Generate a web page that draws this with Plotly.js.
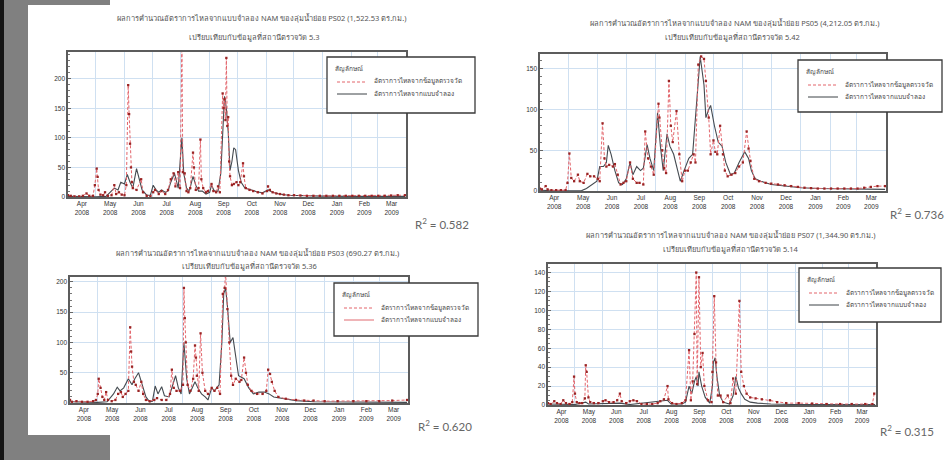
<!DOCTYPE html>
<html><head><meta charset="utf-8">
<script src="https://cdn.plot.ly/plotly-3.0.1.min.js"></script>
<style>html,body{margin:0;padding:0;background:#fff;}#chart{width:951px;height:460px;}</style>
</head><body><div id="chart"></div>
<script>
// ---------- DATA (month-day; Apr-Dec = 2008, Jan-Mar = 2009) ----------
const monthTickFormat = '%b<br>%Y';
const legendTitle = 'สัญลักษณ์';
const obsLabel = 'อัตราการไหลจากข้อมูลตรวจวัด';
const simLabel = 'อัตราการไหลจากแบบจำลอง';

const titles1 = ['ผลการคำนวณอัตราการไหลจากแบบจำลอง NAM ของลุ่มน้ำย่อย PS02 (1,522.53 ตร.กม.)', 'เปรียบเทียบกับข้อมูลที่สถานีตรวจวัด 5.3'];
const titles2 = ['ผลการคำนวณอัตราการไหลจากแบบจำลอง NAM ของลุ่มน้ำย่อย PS05 (4,212.05 ตร.กม.)', 'เปรียบเทียบกับข้อมูลที่สถานีตรวจวัด 5.42'];
const titles3 = ['ผลการคำนวณอัตราการไหลจากแบบจำลอง NAM ของลุ่มน้ำย่อย PS03 (690.27 ตร.กม.)', 'เปรียบเทียบกับข้อมูลที่สถานีตรวจวัด 5.36'];
const titles4 = ['ผลการคำนวณอัตราการไหลจากแบบจำลอง NAM ของลุ่มน้ำย่อย PS07 (1,344.90 ตร.กม.)', 'เปรียบเทียบกับข้อมูลที่สถานีตรวจวัด 5.14'];
const r2Values = ['0.582', '0.736', '0.620', '0.315'];

// Chart 1 observed
const obs1Days = [
 '04-01','04-04','04-08','04-13','04-17','04-21','04-24','04-28','04-30',
 '05-02','05-03','05-04','05-06','05-09','05-11','05-14','05-18','05-21','05-23','05-26','05-29',
 '06-01','06-03','06-05','06-06','06-07','06-08','06-09','06-10','06-14','06-19','06-21','06-25','06-29',
 '07-02','07-04','07-08','07-11','07-15','07-18','07-21','07-24','07-26','07-29','07-31',
 '08-02','08-03','08-05','08-07','08-09','08-11','08-14','08-15','08-17','08-20','08-22','08-23','08-25','08-28','08-30',
 '09-03','09-05','09-08','09-10','09-12','09-15','09-16','09-17','09-18','09-19','09-20','09-21','09-22','09-23','09-25','09-27','09-30',
 '10-02','10-04','10-07','10-08','10-10','10-14','10-18','10-23','10-28',
 '11-02','11-03','11-05','11-08','11-12','11-16','11-20','11-25',
 '12-01','12-08','12-15','12-22','12-29',
 '01-05','01-12','01-19','01-26',
 '02-02','02-09','02-16','02-23',
 '03-02','03-09','03-16','03-23','03-31'];
const obs1Flow = [
 3,2,1,1,2,6,2,2,20,
 48,34,12,4,3,8,2,3,20,5,8,4,
 3,20,189,140,90,50,25,15,12,30,8,2,1,
 8,12,5,10,5,12,30,40,18,42,15,
 260,42,40,10,8,15,75,50,12,15,97,30,15,8,10,
 22,10,8,18,8,175,150,165,130,235,120,135,60,35,20,22,25,
 20,25,57,35,15,12,10,8,6,
 10,18,12,8,6,5,4,3,
 3,2.5,2,2,2,
 2,2,2,2,
 2,2,2,2,
 2,2,2.5,3,3];
// Chart 1 simulated
const sim1Days = [
 '04-01','04-15',
 '05-01','05-12','05-17','05-21','05-25','05-28',
 '06-01','06-04','06-07','06-10','06-14','06-17','06-20','06-25','06-29',
 '07-02','07-05','07-08','07-11','07-15','07-18','07-21','07-25','07-29',
 '08-02','08-04','08-07','08-10','08-14','08-17','08-20','08-24','08-28',
 '09-01','09-03','09-06','09-10','09-13','09-15','09-17','09-19','09-21','09-23','09-25','09-27','09-29',
 '10-02','10-05','10-09','10-15','10-22','10-28',
 '11-03','11-08','11-15','11-25',
 '12-10','01-01','02-01','03-01','03-31'];
const sim1Flow = [
 1,0.5,
 0.5,1,8,15,12,25,
 22,38,25,15,48,30,12,3,3,
 20,12,8,12,8,10,25,40,15,
 100,40,15,10,35,20,10,10,5,
 8,20,10,10,40,120,170,150,110,45,60,83,80,
 45,25,15,12,9,7,
 12,8,5,3,
 2,1.5,1,1,1];

// Chart 2 observed
const obs2Days = [
 '04-01','04-03','04-07','04-09','04-13','04-18','04-23','04-28','04-30',
 '05-02','05-04','05-07','05-11','05-13','05-17','05-21','05-24','05-28',
 '06-01','06-03','06-06','06-08','06-10','06-13','06-17','06-19','06-22','06-25','06-28',
 '07-01','07-05','07-08','07-12','07-15','07-19','07-21','07-24','07-27','07-30',
 '08-04','08-05','08-08','08-10','08-12','08-15','08-17','08-19','08-23','08-26','08-29',
 '09-01','09-04','09-07','09-10','09-12','09-15','09-18','09-21','09-23','09-26','09-28',
 '10-01','10-03','10-05','10-08','10-11','10-13','10-16','10-20','10-24','10-28',
 '11-01','11-05','11-07','11-09','11-13','11-18','11-25',
 '12-01','12-08','12-15','12-22','12-29',
 '01-05','01-12','01-19','01-26',
 '02-02','02-09','02-16','02-23',
 '03-02','03-09','03-16','03-23','03-31'];
const obs2Flow = [
 3,2,6,2,1,1,1,1,10,
 46,16,12,20,12,10,21,18,18,
 15,12,83,40,30,32,30,33,20,8,10,
 12,35,15,10,10,8,73,40,30,20,
 107,90,50,28,22,135,80,60,98,45,12,
 25,25,35,45,35,155,165,162,135,90,45,
 62,48,45,80,45,25,18,20,22,30,
 35,73,52,37,15,12,10,
 9,8,7,6,5,
 4,3.5,3,3,
 3,3,3,3,
 3,4,5,6,6];
// Chart 2 simulated
const sim2Days = [
 '04-01','04-10',
 '05-01','05-15','05-20','05-24','05-28','05-31',
 '06-03','06-07','06-10','06-12','06-15','06-19','06-23','06-27',
 '07-01','07-05','07-08','07-12','07-16','07-19','07-23','07-26','07-30',
 '08-03','08-06','08-09','08-13','08-16','08-20','08-24','08-27','08-31',
 '09-05','09-09','09-13','09-17','09-21','09-23','09-26','09-28',
 '10-02','10-06','10-10','10-14','10-19','10-23','10-28',
 '11-03','11-07','11-10','11-14','11-20',
 '12-01','12-15','01-01','01-20','02-10','03-01','03-31'];
const sim2Flow = [
 1,0.5,
 0.3,0.5,3,6,10,12,
 30,30,35,56,45,25,10,8,
 15,35,20,30,25,28,57,40,25,
 96,55,25,70,55,45,25,12,25,
 40,45,110,165,130,90,100,105,
 80,60,55,35,20,22,35,
 48,40,25,15,12,
 8,6,4,3,2.5,2,2];

// Chart 3 observed
const obs3Days = [
 '04-01','04-03','04-08','04-14','04-20','04-26','04-29',
 '05-01','05-02','05-04','05-06','05-08','05-10','05-12','05-16','05-20','05-23','05-26','05-28','05-31',
 '06-03','06-05','06-06','06-07','06-09','06-11','06-14','06-17','06-19','06-22','06-26',
 '07-01','07-04','07-09','07-14','07-18','07-20','07-22','07-25','07-29',
 '08-01','08-02','08-03','08-04','08-06','08-09','08-12','08-14','08-15','08-16','08-18','08-20','08-22','08-25','08-28',
 '09-01','09-04','09-07','09-10','09-13','09-15','09-16','09-18','09-20','09-22','09-24','09-27',
 '10-01','10-03','10-06','10-08','10-10','10-14','10-20','10-26','10-30',
 '11-01','11-03','11-05','11-08','11-12','11-20',
 '12-01','12-10','12-20',
 '01-01','01-15',
 '02-01','02-15',
 '03-01','03-15','03-31'];
const obs3Flow = [
 5,2,3,2,2,3,5,
 15,40,25,10,5,18,5,3,5,15,18,10,15,
 20,125,85,60,35,30,20,35,15,5,3,
 5,8,5,5,15,55,25,20,20,
 30,190,140,100,30,20,40,95,75,45,20,115,50,20,15,
 25,20,25,15,180,190,215,155,100,45,30,40,
 35,38,75,50,30,20,15,15,20,
 55,48,35,20,10,7,
 5,4,4,
 3,3,
 3,3,
 3,4,5];
// Chart 3 simulated
const sim3Days = [
 '04-01','04-15',
 '05-01','05-11','05-18','05-22','05-25','05-29',
 '06-03','06-07','06-10','06-14','06-18','06-22','06-26','06-29',
 '07-02','07-05','07-09','07-12','07-17','07-21','07-24','07-27','07-30',
 '08-02','08-05','08-08','08-11','08-14','08-17','08-21','08-25','08-28',
 '09-01','09-04','09-09','09-12','09-14','09-16','09-18','09-21','09-24','09-27','09-30',
 '10-06','10-11','10-16','10-22','10-28',
 '11-02','11-07','11-17',
 '12-01','12-20','01-15','02-15','03-31'];
const sim3Flow = [
 2,1,
 1,2,15,26,20,25,
 40,30,40,50,30,10,2,3,
 28,15,27,12,10,30,45,25,15,
 100,40,15,25,35,25,15,10,5,
 25,20,30,100,180,190,160,100,108,80,45,
 40,25,15,18,18,
 15,10,7,
 4,2,1.5,1,1];

// Chart 4 observed
const obs4Days = [
 '04-01','04-04','04-08','04-11','04-15','04-18','04-21','04-25','04-28','04-30',
 '05-01','05-03','05-06','05-09','05-12','05-13','05-14','05-16','05-18','05-22','05-27',
 '06-01','06-04','06-08','06-13','06-17','06-20','06-22','06-27',
 '07-01','07-05','07-09','07-14','07-20','07-26',
 '08-01','08-04','08-08','08-12','08-13','08-17','08-22','08-28',
 '09-01','09-05','09-07','09-09','09-11','09-13','09-14','09-16','09-18','09-20','09-22','09-26','09-30',
 '10-01','10-03','10-05','10-07','10-10','10-13','10-18','10-21','10-24','10-27','10-31',
 '11-02','11-05','11-08','11-12','11-18','11-25',
 '12-04','12-12','12-22',
 '01-05','01-20',
 '02-05','02-20',
 '03-05','03-20','03-28','03-30'];
const obs4Flow = [
 2,1,4,2,1,5,2,1,3,30,
 12,3,2,2,7,42,35,8,3,2,2,
 4,5,3,3,5,12,4,2,
 4,5,4,1,1,1,
 2,4,6,20,6,2,1,2,
 5,58,5,25,75,140,22,135,40,55,20,5,3,
 35,115,45,10,10,3,10,2,28,12,110,
 35,20,12,8,7,6,
 5,3,2,
 2,1.5,
 1,1,
 1,1,1,12];
// Chart 4 simulated
const sim4Days = [
 '04-01',
 '05-01','05-13','05-16',
 '06-20','07-01',
 '08-12','08-16','08-28',
 '09-01','09-05','09-08','09-11','09-13','09-15','09-16','09-19','09-23','09-28',
 '10-01','10-02','10-04','10-06','10-09','10-13','10-20','10-24','10-27','10-30',
 '11-02','11-06','11-12','11-20',
 '12-05','01-01','03-31'];
const sim4Flow = [
 1,
 0.5,3,1,
 2,0.5,
 5,1,1,
 3,20,12,25,30,20,35,20,8,2,
 20,45,50,30,10,3,1,10,30,18,
 12,6,3,2,
 1,0.5,0.5];

// ---------- RENDER ----------
const toDate = md => (parseInt(md, 10) >= 4 ? '2008-' : '2009-') + md;
const W = 951, H = 460;
const fx = x => x / W, fy = y => 1 - y / H;

const panels = [
  {box:[68,406,52,197], ymax:245, dtick:50, minor:10, obsD:obs1Days, obsV:obs1Flow, simD:sim1Days, simV:sim1Flow,
   titles:titles1, tx:[262,254], ty:[18,37], r2:r2Values[0], r2pos:[442,223], leg:[327,475,57,113], simLegColor:'#3c4247'},
  {box:[540,886,54,191], ymax:168, dtick:50, minor:10, obsD:obs2Days, obsV:obs2Flow, simD:sim2Days, simV:sim2Flow,
   titles:titles2, tx:[735,732], ty:[23,37], r2:r2Values[1], r2pos:[917,213], leg:[798,942,60,112], simLegColor:'#3c4247'},
  {box:[70,408,277,403], ymax:208, dtick:50, minor:10, obsD:obs3Days, obsV:obs3Flow, simD:sim3Days, simV:sim3Flow,
   titles:titles3, tx:[257,250], ty:[253,266], r2:r2Values[2], r2pos:[445,425], leg:[334,478,283,336], simLegColor:'#e06a70'},
  {box:[548,876,264,405], ymax:149, dtick:20, minor:5, obsD:obs4Days, obsV:obs4Flow, simD:sim4Days, simV:sim4Flow,
   titles:titles4, tx:[731,731], ty:[235,249], r2:r2Values[3], r2pos:[907,430], leg:[799,941,268,322], simLegColor:'#3c4247'}
];

const fontFam = '"Noto Sans", "DejaVu Sans", "Liberation Sans", sans-serif';
const redLine = '#e3646b', redMark = '#9a2424', simColor = '#444a50';
const traces = [];
const layout = {
  width: W, height: H, margin:{l:0,r:0,t:0,b:0,pad:0},
  paper_bgcolor:'#ffffff', plot_bgcolor:'#ffffff', showlegend:false,
  font:{family:fontFam, size:7, color:'#333'},
  shapes:[], annotations:[]
};

panels.forEach((p, i) => {
  const n = i === 0 ? '' : String(i + 1);
  const [x0, x1, y0, y1] = p.box;
  traces.push({
    type:'scatter', mode:'lines', x:p.simD.map(toDate), y:p.simV, xaxis:'x'+n, yaxis:'y'+n,
    line:{color:simColor, width:1.1}, name:simLabel, hoverinfo:'skip'
  });
  traces.push({
    type:'scatter', mode:'lines+markers', x:p.obsD.map(toDate), y:p.obsV, xaxis:'x'+n, yaxis:'y'+n,
    line:{color:redLine, width:1, dash:'3px,2px'}, marker:{symbol:'square', size:2.3, color:redMark},
    name:obsLabel, cliponaxis:true, hoverinfo:'skip'
  });
  layout['xaxis'+n] = {
    domain:[fx(x0), fx(x1)], anchor:'y'+n, type:'date',
    range:['2008-04-01','2009-04-01'], tick0:'2008-04-01', dtick:'M1',
    tickformat:monthTickFormat, ticklabelmode:'period', ticks:'',
    showgrid:true, gridcolor:'#cfe0f1', gridwidth:1, zeroline:false,
    showline:true, mirror:true, linecolor:'#5c5c5c', linewidth:1.6,
    tickfont:{size:6.5, color:'#333', family:'"Liberation Sans", Arial, sans-serif'}, fixedrange:true
  };
  layout['yaxis'+n] = {
    domain:[fy(y1), fy(y0)], anchor:'x'+n, range:[0, p.ymax], dtick:p.dtick, tick0:0,
    showgrid:true, gridcolor:'#cfe0f1', gridwidth:1, zeroline:false,
    showline:true, mirror:true, linecolor:'#5c5c5c', linewidth:1.6,
    ticks:'inside', ticklen:3, tickcolor:'#666',
    minor:{dtick:p.minor, ticks:'inside', ticklen:2, tickcolor:'#777', showgrid:false},
    tickfont:{size:6.5, color:'#333', family:'"Liberation Sans", Arial, sans-serif'}, fixedrange:true
  };
  p.titles.forEach((t, k) => layout.annotations.push({
    xref:'paper', yref:'paper', x:fx(p.tx[k]), y:fy(p.ty[k]), text:t, showarrow:false,
    xanchor:'center', yanchor:'middle', font:{size:7.5, color:'#555', family:fontFam}
  }));
  layout.annotations.push({
    xref:'paper', yref:'paper', x:fx(p.r2pos[0]), y:fy(p.r2pos[1]), text:'R<sup>2</sup> = ' + p.r2,
    showarrow:false, xanchor:'center', yanchor:'middle', font:{size:11.5, color:'#666', family:'Lato, "Open Sans", sans-serif'}
  });
  const [lx0, lx1, ly0, ly1] = p.leg;
  layout.shapes.push({type:'rect', xref:'paper', yref:'paper', x0:fx(lx0), x1:fx(lx1), y0:fy(ly1), y1:fy(ly0),
    fillcolor:'#ffffff', line:{color:'#3a3a3a', width:1.3}, layer:'above'});
  layout.shapes.push({type:'line', xref:'paper', yref:'paper', x0:fx(lx0+10), x1:fx(lx0+40), y0:fy(ly0+25), y1:fy(ly0+25),
    line:{color:redLine, width:1, dash:'3px,2px'}, layer:'above'});
  layout.shapes.push({type:'line', xref:'paper', yref:'paper', x0:fx(lx0+10), x1:fx(lx0+40), y0:fy(ly0+37), y1:fy(ly0+37),
    line:{color:p.simLegColor, width:1}, layer:'above'});
  layout.annotations.push({xref:'paper', yref:'paper', x:fx(lx0+6), y:fy(ly0+11), text:legendTitle, showarrow:false,
    xanchor:'left', yanchor:'middle', font:{size:6.5, color:'#444', family:fontFam}});
  layout.annotations.push({xref:'paper', yref:'paper', x:fx(lx0+45), y:fy(ly0+24), text:obsLabel, showarrow:false,
    xanchor:'left', yanchor:'middle', font:{size:6.5, color:'#444', family:fontFam}});
  layout.annotations.push({xref:'paper', yref:'paper', x:fx(lx0+45), y:fy(ly0+36), text:simLabel, showarrow:false,
    xanchor:'left', yanchor:'middle', font:{size:6.5, color:'#444', family:fontFam}});
});

// page frame (scanned document edge)
layout.shapes.push({type:'rect', xref:'paper', yref:'paper', x0:0, x1:fx(4), y0:0, y1:1, fillcolor:'#141414', line:{width:0}, layer:'above'});
layout.shapes.push({type:'rect', xref:'paper', yref:'paper', x0:fx(4), x1:fx(28), y0:0, y1:1, fillcolor:'#808080', line:{width:0}, layer:'above'});
layout.shapes.push({type:'rect', xref:'paper', yref:'paper', x0:fx(4), x1:fx(110), y0:fy(5), y1:1, fillcolor:'#808080', line:{width:0}, layer:'above'});
layout.shapes.push({type:'rect', xref:'paper', yref:'paper', x0:fx(4), x1:fx(110), y0:0, y1:fy(435), fillcolor:'#808080', line:{width:0}, layer:'above'});

Plotly.newPlot('chart', traces, layout, {staticPlot:true, displayModeBar:false});
</script></body></html>
